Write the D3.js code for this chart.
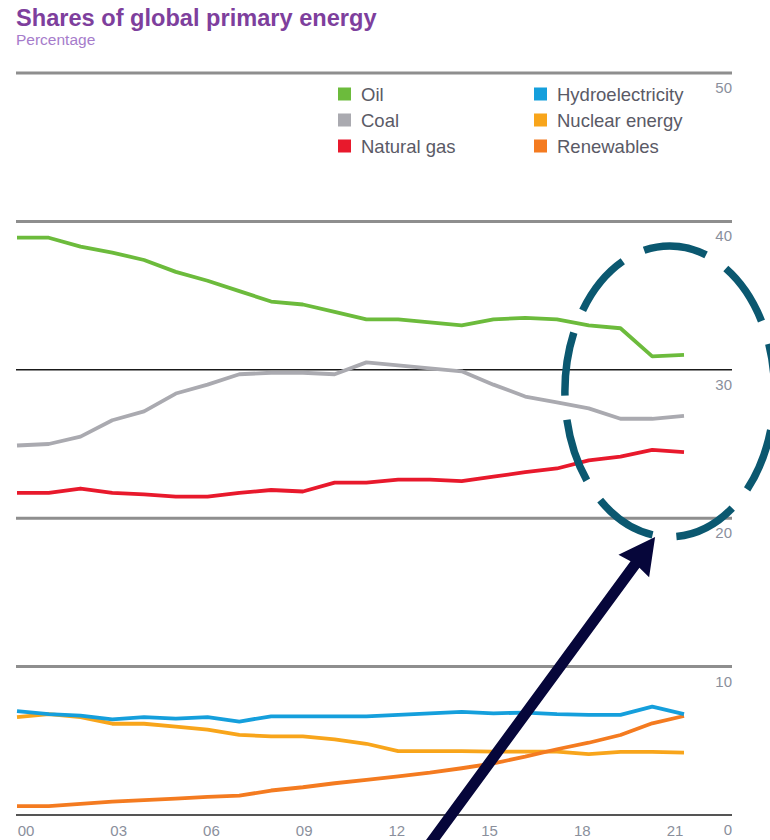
<!DOCTYPE html>
<html>
<head>
<meta charset="utf-8">
<script src="https://cdn.jsdelivr.net/npm/d3@7"></script>
<style>
  html, body { margin: 0; padding: 0; background: #fff; }
  svg { display: block; font-family: "Liberation Sans", Arial, sans-serif; }
</style>
</head>
<body>
<svg id="chart" width="770" height="840"></svg>
<script>
// ---- data ----
const years = d3.range(0, 22); // 2000..2021
const tickYears = [0, 3, 6, 9, 12, 15, 18, 21];
const tickYearLabels = ["00", "03", "06", "09", "12", "15", "18", "21"];
const valueTicks = [0, 10, 20, 30, 40, 50];
const valueTickLabels = ["0", "10", "20", "30", "40", "50"];

const oil = [38.9, 38.9, 38.3, 37.9, 37.4, 36.6, 36.0, 35.3, 34.6, 34.4, 33.9, 33.4, 33.4, 33.2, 33.0, 33.4, 33.5, 33.4, 33.0, 32.8, 30.9, 31.0];
const coal = [24.9, 25.0, 25.5, 26.6, 27.2, 28.4, 29.0, 29.7, 29.8, 29.8, 29.7, 30.5, 30.3, 30.1, 29.9, 29.0, 28.2, 27.8, 27.4, 26.7, 26.7, 26.9];
const gas = [21.7, 21.7, 22.0, 21.7, 21.6, 21.45, 21.45, 21.7, 21.9, 21.8, 22.4, 22.4, 22.6, 22.6, 22.5, 22.8, 23.1, 23.35, 23.9, 24.15, 24.6, 24.45];
const hydro = [7.0, 6.8, 6.7, 6.45, 6.6, 6.5, 6.6, 6.3, 6.65, 6.65, 6.65, 6.65, 6.75, 6.85, 6.95, 6.85, 6.9, 6.8, 6.75, 6.75, 7.3, 6.8];
const nuclear = [6.6, 6.8, 6.6, 6.15, 6.15, 5.95, 5.75, 5.4, 5.3, 5.3, 5.1, 4.8, 4.3, 4.3, 4.3, 4.27, 4.27, 4.27, 4.1, 4.25, 4.25, 4.2];
const renewables = [0.6, 0.6, 0.75, 0.9, 1.0, 1.1, 1.22, 1.3, 1.65, 1.87, 2.14, 2.36, 2.6, 2.85, 3.15, 3.48, 3.93, 4.43, 4.87, 5.39, 6.18, 6.67];

const seriesNames = ["Oil", "Coal", "Natural gas", "Hydroelectricity", "Nuclear energy", "Renewables"];
const seriesColors = ["#6cbb3c", "#aaaab0", "#e8192c", "#159fdc", "#f8a51b", "#f47b20"];
const seriesValues = [oil, coal, gas, hydro, nuclear, renewables];

// annotation anchors in data space (year index, percentage)
const ellipseCenter = [20.55, 28.55];
const ellipseRadii = [3.3, 9.8];
const arrowTip = [20.09, 18.73];
const arrowTail = [12.95, -2.1];

// ---- drawing ----
const svg = d3.select("#chart");
const x = d3.scaleLinear().domain([0, 21]).range([17, 684]);
const xLabel = d3.scaleLinear().domain([0, 21]).range([26, 675]);
const y = d3.scaleLinear().domain([0, 50]).range([815, 73]);
const gridLeft = 16, gridRight = 732;

// title
svg.append("text").attr("x", 16).attr("y", 26)
  .attr("font-size", 23.6).attr("font-weight", "bold").attr("fill", "#7e3f9d")
  .text("Shares of global primary energy");
svg.append("text").attr("x", 16).attr("y", 45)
  .attr("font-size", 15.5).attr("fill", "#a67ccb")
  .text("Percentage");

// gridlines
const grid = svg.append("g");
valueTicks.forEach((v, i) => {
  let stroke = "#8e8e8e", sw = 3;
  if (v === 30) { stroke = "#1a1a1a"; sw = 1.5; }
  if (v === 0) { stroke = "#555"; sw = 2; }
  grid.append("line")
    .attr("x1", gridLeft).attr("x2", gridRight)
    .attr("y1", y(v)).attr("y2", y(v))
    .attr("stroke", stroke).attr("stroke-width", sw);
  grid.append("text")
    .attr("x", gridRight).attr("y", y(v) + 20)
    .attr("text-anchor", "end").attr("font-size", 15).attr("fill", "#8a8f9c")
    .text(valueTickLabels[i]);
});

// x tick labels
tickYears.forEach((t, i) => {
  svg.append("text")
    .attr("x", xLabel(t)).attr("y", y(0) + 21)
    .attr("text-anchor", "middle").attr("font-size", 15).attr("fill", "#8a8f9c")
    .text(tickYearLabels[i]);
});

// lines
const line = d3.line().x((d, i) => x(years[i])).y(d => y(d));
const order = [4, 5, 3, 2, 1, 0];
order.forEach(k => {
  svg.append("path")
    .attr("d", line(seriesValues[k]))
    .attr("fill", "none")
    .attr("stroke", seriesColors[k])
    .attr("stroke-width", 3.8)
    .attr("stroke-linejoin", "round");
});

// legend
const legendCols = [338, 534];
const legendRows = [94, 120, 146];
seriesNames.forEach((name, i) => {
  const col = Math.floor(i / 3), row = i % 3;
  const g = svg.append("g").attr("transform", `translate(${legendCols[col]},${legendRows[row]})`);
  g.append("rect").attr("x", 0).attr("y", -6.5).attr("width", 13).attr("height", 13)
    .attr("fill", seriesColors[i]);
  g.append("text").attr("x", 23).attr("y", 6.5)
    .attr("font-size", 18.5).attr("fill", "#5a5a66")
    .text(name);
});

// annotation: dashed ellipse
svg.append("ellipse")
  .attr("cx", x(ellipseCenter[0])).attr("cy", y(ellipseCenter[1]))
  .attr("rx", x(ellipseRadii[0]) - x(0)).attr("ry", y(0) - y(ellipseRadii[1]))
  .attr("fill", "none").attr("stroke", "#0b5870").attr("stroke-width", 7.5)
  .attr("stroke-dasharray", "64 24").attr("stroke-dashoffset", 49);

// annotation: arrow
const tx = x(arrowTip[0]), ty = y(arrowTip[1]);
const sx = x(arrowTail[0]), sy = y(arrowTail[1]);
const dx = tx - sx, dy = ty - sy, len = Math.hypot(dx, dy);
const ux = dx / len, uy = dy / len, px = -uy, py = ux;
const headLen = 36, headHalf = 19, shaftHalf = 5.5;
const bx = tx - ux * headLen, by = ty - uy * headLen;
svg.append("path")
  .attr("d", d3.line()([
    [sx + px * shaftHalf, sy + py * shaftHalf],
    [bx + px * shaftHalf + ux * 2, by + py * shaftHalf + uy * 2],
    [bx + px * headHalf, by + py * headHalf],
    [tx, ty],
    [bx - px * headHalf, by - py * headHalf],
    [bx - px * shaftHalf + ux * 2, by - py * shaftHalf + uy * 2],
    [sx - px * shaftHalf, sy - py * shaftHalf]
  ]) + "Z")
  .attr("fill", "#06063a");
</script>
</body>
</html>
